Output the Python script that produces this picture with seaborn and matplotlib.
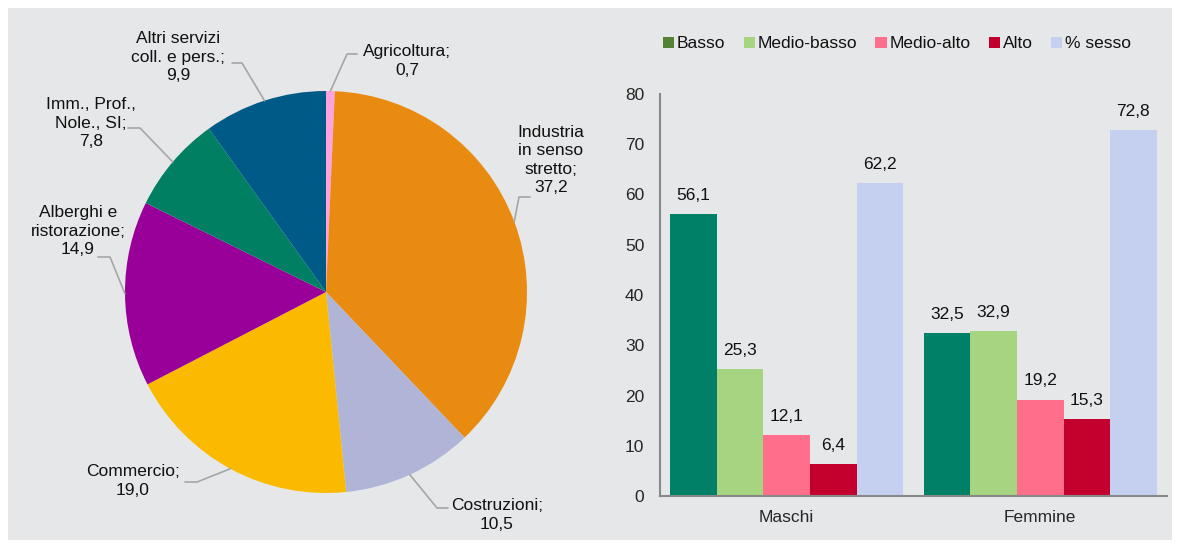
import pandas as pd
import seaborn as sns
import matplotlib.pyplot as plt
from matplotlib.patches import Patch, Rectangle
import numpy as np

# pie data: settori
settori = ["Agricoltura", "Industria in senso stretto", "Costruzioni", "Commercio",
           "Alberghi e ristorazione", "Imm., Prof., Nole., SI", "Altri servizi coll. e pers."]
settori_label = ["Agricoltura;\n0,7", "Industria\nin senso\nstretto;\n37,2", "Costruzioni;\n10,5",
                 "Commercio;\n19,0", "Alberghi e\nristorazione;\n14,9", "Imm., Prof.,\nNole., SI;\n7,8",
                 "Altri servizi\ncoll. e pers.;\n9,9"]
settori_val = [0.7, 37.2, 10.5, 19.0, 14.9, 7.8, 9.9]
settori_col = ["#FFA3E0", "#E98B10", "#B0B5D8", "#FBBA00", "#990099", "#007F62", "#005A87"]

# bar data: livelli per sesso
sesso = ["Maschi", "Femmine"]
livelli = ["Basso", "Medio-basso", "Medio-alto", "Alto", "% sesso"]
maschi = [56.1, 25.3, 12.1, 6.4, 62.2]
femmine = [32.5, 32.9, 19.2, 15.3, 72.8]
bar_col = ["#008066", "#A6D480", "#FF6E8A", "#C3002D", "#C5D0F0"]
legend_col = ["#548235", "#A6D480", "#FF6E8A", "#C3002D", "#C5D0F0"]

sns.set_theme(style="white")
plt.rcParams['font.family'] = ['Liberation Sans', 'DejaVu Sans']
plt.rcParams['text.color'] = '#111111'
FS = 12.5

W, H = 1180, 548
fig = plt.figure(figsize=(W / 100, H / 100), dpi=100)
fig.patch.set_facecolor("white")
fig.patches.append(Rectangle((8 / W, 8 / H), 1164 / W, 532 / H, transform=fig.transFigure,
                             facecolor="#E6E7E9", edgecolor="none", zorder=-5))

# ---- pie ----
cx, cy, R = 326, 292, 201
half = 210
axp = fig.add_axes([(cx - half) / W, (H - cy - half) / H, 2 * half / W, 2 * half / H])
axp.set_facecolor("none")
axp.pie(settori_val, colors=settori_col, startangle=90, counterclock=False, radius=1,
        wedgeprops=dict(linewidth=0))
axp.set_xlim(-half / R, half / R)
axp.set_ylim(-half / R, half / R)
axp.set_aspect("equal")
axp.axis("off")


def px(x, y):
    return (x - cx) / R, (cy - y) / R


# text centres and leader elbows in pixels (layout only)
text_pos = [(407, 61), (551, 160), (497, 515), (133, 481), (78, 231), (91, 123), (178, 57)]
elbows = [[(347, 54), (357, 54)], [(519, 197), (530, 197)], [(437, 508), (448, 508)],
          [(197, 482), (185, 482)], [(110, 257), (98, 257)], [(140, 128), (128, 128)],
          [(242, 63), (232, 63)]]

cum = np.cumsum([0] + settori_val[:-1])
for i, v in enumerate(settori_val):
    mid = 90 - (cum[i] + v / 2) * 3.6
    ex, ey = np.cos(np.radians(mid)), np.sin(np.radians(mid))
    pts = [(ex, ey)] + [px(*p) for p in elbows[i]]
    axp.plot([p[0] for p in pts], [p[1] for p in pts], color="#A6A6A6", lw=1.2, clip_on=False)
    tx, ty = px(*text_pos[i])
    axp.text(tx, ty, settori_label[i], ha="center", va="center", fontsize=FS,
             linespacing=1.3, clip_on=False)

# ---- bars ----
df = pd.DataFrame({
    "sesso": np.repeat(sesso, len(livelli)),
    "livello": livelli * len(sesso),
    "valore": maschi + femmine,
})
axb = fig.add_axes([660 / W, (H - 496) / H, 507 / W, 402 / H])
axb.set_facecolor("none")
sns.barplot(data=df, x="sesso", y="valore", hue="livello", order=sesso, hue_order=livelli,
            palette=bar_col, saturation=1, width=0.918, gap=0, linewidth=0, legend=False, ax=axb)
for cont in axb.containers:
    axb.bar_label(cont, labels=[f"{v:.1f}".replace(".", ",") for v in cont.datavalues],
                  padding=8, fontsize=FS)

axb.set_xlim(-0.5, 1.5)
axb.set_ylim(0, 80)
axb.set_yticks(range(0, 81, 10))
axb.set_xlabel("")
axb.set_ylabel("")
axb.set_xticks([0, 1])
axb.set_xticklabels(sesso)
axb.set_xticks([-0.5, 0.5, 1.5], minor=True)
axb.tick_params(axis="x", which="major", length=0, pad=10, labelsize=FS)
axb.tick_params(axis="x", which="minor", length=4, width=1.2, color="#898989", direction="out")
axb.tick_params(axis="y", length=4.3, width=1.2, color="#898989", direction="out", pad=7, labelsize=FS)
for s in ["top", "right"]:
    axb.spines[s].set_visible(False)
for s in ["left", "bottom"]:
    axb.spines[s].set_color("#898989")
    axb.spines[s].set_linewidth(1.5)

handles = [Patch(facecolor=c, edgecolor="none", label=l) for c, l in zip(legend_col, livelli)]
fig.legend(handles=handles, loc="center left", bbox_to_anchor=(663 / W, 1 - 44 / H), ncol=5,
           frameon=False, fontsize=FS, handlelength=0.65, handleheight=0.65, handletextpad=0.15,
           columnspacing=1.05, borderaxespad=0, borderpad=0)

fig.savefig("out.png", dpi=100)
